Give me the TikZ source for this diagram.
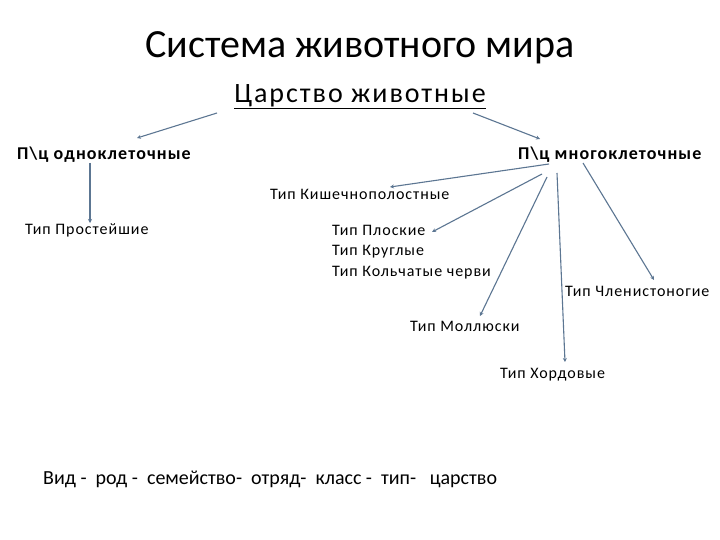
\documentclass[tikz,border=0pt]{standalone}
\usepackage{fontspec}
\setmainfont{Carlito}
\newfontfamily\spacedA[LetterSpace=6]{Carlito}
\newfontfamily\spacedB[LetterSpace=7]{Carlito}
\usetikzlibrary{arrows.meta}
\definecolor{linec}{RGB}{92,118,146}
\tikzset{
  lbl/.style={inner sep=0pt, anchor=west, font=\spacedA\fontsize{16}{18}\selectfont},
  blbl/.style={inner sep=0pt, anchor=west, font=\spacedA\fontsize{18}{20}\selectfont\bfseries},
  conn/.style={draw=linec, line width=1.1pt, -{Stealth[length=4pt,width=4pt]}}
}
\begin{document}
\begin{tikzpicture}[x=1pt,y=-1pt]
\useasboundingbox (0,0) rectangle (720,540);
\fill[white] (0,0) rectangle (720,540);
\node[inner sep=0pt, font=\fontsize{40}{42}\selectfont] (title) at (360,48) {Система животного мира};
\node[inner sep=0pt, font=\spacedB\fontsize{28}{30}\selectfont] (king) at (360,97) {\underline{Царство животные}};
\node[blbl] (uni) at (17,155) {П\textbackslash ц одноклеточные};
\node[blbl] (multi) at (518,155) {П\textbackslash ц многоклеточные};
\node[lbl] (proto) at (25,230) {Тип Простейшие};
\node[lbl] (kish) at (270,194) {Тип Кишечнополостные};
\node[lbl] (plosk) at (332,230) {Тип Плоские};
\node[lbl] (krug) at (332,252) {Тип Круглые};
\node[lbl] (kolch) at (332,273) {Тип Кольчатые черви};
\node[lbl] (chlen) at (565,291) {Тип Членистоногие};
\node[lbl] (moll) at (410,326) {Тип Моллюски};
\node[lbl] (hord) at (500,375) {Тип Хордовые};
\node[lbl, font=\fontsize{20}{22}\selectfont] (rank) at (43,479) {Вид -\ \ род -\ \ семейство-\ \ отряд-\ \ класс -\ \ тип-\ \ \ царство};
% connector end points
\coordinate (k1) at (217,113); \coordinate (u1) at (137,138);
\coordinate (k2) at (473,113); \coordinate (m1) at (540,139);
\coordinate (u2) at (90,163);  \coordinate (p1) at (90,223);
\coordinate (m2) at (549,164); \coordinate (ki) at (390,187);
\coordinate (m3) at (542,174); \coordinate (pl) at (432,232);
\coordinate (m4) at (547,177); \coordinate (mo) at (480,316);
\coordinate (m5) at (557,173); \coordinate (ho) at (565,362);
\coordinate (m6) at (583,163); \coordinate (ch) at (654,280);
\draw[conn] (k1) -- (u1);
\draw[conn] (k2) -- (m1);
\draw[conn] (u2) -- (p1);
\draw[conn] (m2) -- (ki);
\draw[conn] (m3) -- (pl);
\draw[conn] (m4) -- (mo);
\draw[conn] (m5) -- (ho);
\draw[conn] (m6) -- (ch);
\end{tikzpicture}
\end{document}
